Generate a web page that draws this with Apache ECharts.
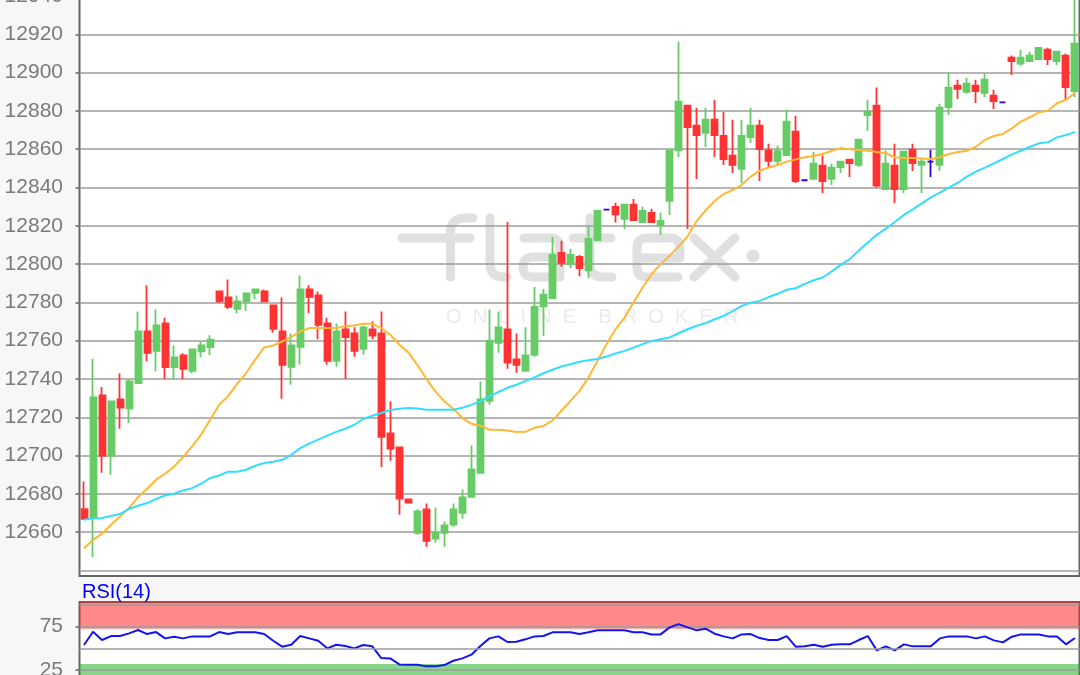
<!DOCTYPE html>
<html><head><meta charset="utf-8">
<style>html,body{margin:0;padding:0;background:#f7f7f7;overflow:hidden}#c{width:1080px;height:675px}</style>
<script src="https://cdn.jsdelivr.net/npm/echarts@6/dist/echarts.min.js"></script>
</head><body><div id="c"></div>
<script>
// [open, close, low, high]
const candles = [
[12672,12667,12667,12686.5],[12667.4,12730.4,12647,12750.4],[12731.4,12700,12691,12735.8],[12700,12728.3,12690,12728.3],
[12729.3,12725,12714,12743],[12724.5,12738.7,12717,12740],[12737.9,12764.8,12737.9,12775.3],[12764.8,12753.7,12749.3,12788.9],
[12754.7,12768,12744,12776.3],[12769,12746.2,12740,12772],[12746.2,12751.3,12740,12757.5],[12752.3,12745.3,12740,12753.4],
[12744.3,12755.4,12743,12755.4],[12754.4,12757.5,12751.4,12759.6],[12756.7,12760.5,12752.5,12762.8],[12785.7,12780.5,12779.8,12785.7],
[12782.6,12777.7,12776.5,12792],[12776.7,12780.5,12774.4,12783.6],[12780.5,12784.7,12775.5,12784.7],[12785,12786.8,12781.7,12786.8],
[12785.7,12780.5,12780.5,12786.8],[12778.4,12766.2,12764.1,12778.4],[12764.8,12747.4,12729.7,12782.6],[12746.4,12757.5,12737,12763.8],
[12756.8,12786.8,12747.4,12794],[12786.8,12782.9,12774.4,12788.9],[12783.6,12768.3,12760.8,12785.7],[12769,12749.5,12747.4,12772],
[12749.5,12764.8,12746.4,12769],[12765.9,12761.9,12740,12775.3],[12763.8,12754.7,12751.6,12767],[12755.8,12766.9,12752.7,12768],
[12765.9,12762.7,12760.7,12770],[12763.8,12709.8,12694,12775.3],[12711.6,12703.6,12697.3,12728.3],[12704.3,12677.5,12669.1,12704.3],
[12677.1,12675.4,12675.4,12677.1],[12659.7,12670.8,12658.6,12671.9],[12671.9,12655.5,12652.4,12675],[12656.6,12659.7,12654.5,12672.9],
[12659.7,12663.5,12652.4,12665.6],[12663.9,12671.9,12662.8,12675],[12670.1,12678.2,12667,12682.3],[12678.5,12692.8,12678.5,12705.3],
[12691,12729.3,12691,12738.7],[12728.6,12760,12726.5,12776.3],[12758.9,12766.9,12753.7,12775.3],[12765.9,12748.5,12745.3,12822],
[12750.2,12747.4,12743.3,12763.8],[12744.3,12752.3,12744.3,12767],[12752.6,12777.7,12751.6,12788.1],[12778,12784,12762.4,12787],
[12782.2,12804.8,12782,12814.2],[12805.9,12800.7,12798.6,12812.2],[12800,12804.8,12797.9,12808],[12803.8,12797.9,12793.7,12804.8],
[12796.8,12813.2,12792.7,12819.5],[12812.5,12827.8,12812.5,12827.8],[12828.5,12828.5,12828.5,12828.5],[12829.9,12826,12821.7,12832],
[12823.6,12831,12818.4,12831],[12831,12823,12823,12834],[12821.9,12827.8,12821.9,12830],[12826.8,12821.9,12821.5,12828.9],
[12820.5,12822.6,12815.3,12826.8],[12833,12859.4,12825.7,12859.4],[12859.4,12884.8,12856,12916.2],[12882.8,12871.6,12818.3,12882.8],
[12872.3,12867.4,12844.5,12881.7],[12868.5,12875.4,12861.2,12881.7],[12875.4,12867.4,12856,12885.9],[12867,12854.9,12851.8,12879.6],
[12856.6,12851.8,12847.6,12875.4],[12849.7,12867,12842.4,12875.4],[12866.4,12872.3,12863.3,12881.7],[12872.3,12860.1,12843.4,12875.4],
[12859.4,12853.9,12850.7,12862.9],[12853.9,12859,12851.8,12861.9],[12857,12874.4,12857,12880.7],[12869.2,12843.4,12842.4,12877.5],
[12843.8,12843.8,12843.8,12843.8],[12844.5,12852.5,12844.5,12858.7],[12851.4,12843.4,12837,12856.6],[12844.5,12850.4,12841.3,12852.5],
[12850.7,12853.5,12847.6,12853.5],[12854.6,12852.8,12845.5,12854.6],[12851.8,12865,12850.7,12865],[12877.9,12879.6,12869.5,12885.9],
[12882.8,12841,12840,12892.2],[12839.2,12852.5,12839.2,12859.4],[12851.4,12839.2,12831.9,12862.9],[12839.2,12858.7,12837.1,12858.7],
[12859.8,12852.8,12848.6,12862.9],[12851.8,12853.5,12837.1,12855.6],[12853.5,12853.5,12845.5,12859.8],[12851.8,12881.7,12848.6,12883.8],
[12882,12892.2,12877.9,12900],[12893.2,12891.5,12886.2,12896.3],[12890,12894.2,12889,12897.4],[12893.2,12890.4,12884.1,12896.3],
[12889.4,12896.3,12887.3,12899.5],[12888,12885.2,12881,12891.1],[12884.5,12884.5,12884.5,12884.5],[12907.8,12906,12898.8,12908.9],
[12904.7,12907.8,12903.6,12912],[12906,12908.9,12906,12911],[12907.1,12913,12907.1,12913],[12912,12907.1,12904,12913],
[12906,12911,12904,12911],[12908.9,12892.5,12886.2,12910],[12890.4,12915.1,12887.3,12946]
];
const maFast = [12651.5,12656,12659.2,12663.9,12668.2,12672.6,12678.3,12682.7,12687.4,12690.5,12694.3,12699.2,12704.8,12710.9,12718.7,12726.5,12731.2,12737.5,12743.1,12750,12756.5,
12757.5,12759.6,12761.9,12764.8,12766.6,12766.6,12766.6,12766.6,12767.6,12768,12768.8,12768.8,12766.6,12763.1,12757.9,12753.9,12747.4,12740.1,12733.5,12728.3,12724.5,12719.6,12716.6,12715.6,12713.5,12713.5,12713.1,12712.3,12712.4,
12714.5,12715.5,12718.2,12723.4,12728.6,12733.8,12740.8,12749.5,12758.2,12766,12772.1,12780,12787.8,12794.7,12800,12804.3,12809.2,12814.5,12822.5,12828,12833,12836.6,12838.7,12841.3,12845.7,12848.8,12850.5,12851.8,12853.5,12854.7,12855.8,12856.5,12857.5,12859.2,12860.6,12860,12859.6,12859.2,12858.6,
12857.9,12855.8,12855.4,12855.4,12855.2,12854.9,12855.8,12857.5,12858.6,12859.2,12861.3,12864.8,12866.9,12868,12870.9,12874.4,12876.7,12879.3,12880.1,12884,12885.7,12889.5];
const maSlow = [12666.5,12667.2,12667.4,12668.4,12669.5,12672.1,12673.8,12675.2,12677.3,12679.2,12680.1,12681.8,12683,12685.3,12688.3,12689.6,12691.6,12691.6,12692.6,12694.7,12696.1,
12696.8,12697.8,12700.4,12703.9,12706.2,12708.3,12710.4,12712.4,12714,12716.1,12719.1,12720.8,12722.2,12723.8,12724.5,12724.8,12724.6,12723.9,12723.9,12723.9,12723.9,12725,12726.5,12728.3,12730.9,12733.2,12735.4,12737,12738.9,
12740.8,12743,12744.8,12746.5,12747.7,12749,12749.8,12750.5,12751.7,12753.3,12754.7,12756.4,12758.2,12759.9,12760.8,12761.7,12763.9,12766,12767.8,12769.2,12771.2,12773,12775.5,12778.2,12779.8,12780.8,12782.8,12784.5,12786.6,12787.4,12789.7,12791.6,12793,12796.2,12799.6,12802.6,12807.1,12811.3,12815.3,
12818.5,12822,12825.7,12828.6,12831.7,12834.9,12837.3,12840,12842.5,12845.7,12848.3,12850.4,12852.6,12854.9,12857.3,12859.2,12861.3,12863.1,12863.6,12866.2,12867.4,12869];
const rsi = [53.8,69.2,59.6,64.2,64.2,67.3,71.2,66.5,68.8,61.5,63.5,61.5,63.8,63.8,63.8,68.8,66.5,68.5,68.5,68.5,66.5,58.8,51.9,54.2,64.2,61.5,58.8,50,54.2,52.7,50,
53.8,52.3,38.8,38.4,31.5,31.1,31.1,29.2,29.2,30.7,35.7,38.4,42.7,52.7,61.5,63.8,57.3,57.7,60.4,63.8,64.2,68.5,68.5,68.5,66.5,68.5,70.8,70.8,70.8,70.8,68.5,68.5,66.1,66.1,74.2,78,74.2,70.8,72.7,66.9,
63.8,61.5,66.1,66.5,61.9,59.6,59.6,64.2,51.9,52.3,54.2,51.9,54.2,54.6,54.6,59.6,64.2,47.7,52.3,47.7,54.6,52.3,52.3,52.3,61.5,63.8,63.8,63.8,61.5,63.8,59.2,56.9,63.5,66.1,66.1,66.1,63.8,63.8,54.6,61.9];
const priceTicks = [12660,12680,12700,12720,12740,12760,12780,12800,12820,12840,12860,12880,12900,12920,12940];
const priceExtraLines = [12640];
const rsiLabelTicks = [25,75];
const rsiExtraLines = [50,100];
const rsiBands = [[72.5,104],[-10,32]];
const categories = candles.map((_, i) => i);

const GRIDC = '#9c9c9c', AXC = '#666666', LAB = '#7a7a7a';
const FONT = '"Liberation Sans", Arial, sans-serif';
const WM = '#e0e0e0';
const wmPaths = [
  'M402 238 L470 238 M450.5 277 L450.5 232 Q450.5 218 466 218 L473 218',
  'M490 218 L490 264 Q490 277 503 277 L507 277',
  'M524 238 L550 238 Q560 238 560 248 L560 277 L533 277 Q523 277 523 267 Q523 257 533 257 L560 257',
  'M573 238 L611 238 M590 218 L590 264 Q590 277 603 277 L612 277',
  'M680 258 L637 258 M678 277 L647 277 Q637 277 637 267 L637 248 Q637 238 647 238 L670 238 Q680 238 680 248 L680 258',
  'M694 238 L735 277 M735 238 L694 277'
];
wmPaths.forEach((d, i) => echarts.graphic.registerShape('wm' + i, echarts.graphic.extendPath(d)));
const wmEls = wmPaths.map((d, i) => ({type:'wm' + i, z:1, silent:true,
  style:{fill:'none', stroke:WM, lineWidth:9, lineCap:'round', lineJoin:'round'}}));
const extraLine = arr => ({silent:true, symbol:'none', label:{show:false}, lineStyle:{color:GRIDC,width:1.6,type:'solid'}, data:arr.map(v=>({yAxis:v}))});

const chart = echarts.init(document.getElementById('c'), null, {renderer:'canvas'});
chart.setOption({
  animation:false,
  backgroundColor:'#f7f7f7',
  grid:[
    {left:79.5, width:1000, top:-20, height:596, outerBoundsMode:'none', show:true, backgroundColor:'#fff', borderColor:AXC, borderWidth:2, z:0},
    {left:79.5, width:1000, top:602, height:97.9, outerBoundsMode:'none', show:true, backgroundColor:'#fff', borderColor:AXC, borderWidth:2, z:0}
  ],
  xAxis:[
    {type:'category', gridIndex:0, data:categories, boundaryGap:true, axisLine:{show:false}, axisTick:{show:false}, axisLabel:{show:false}, splitLine:{show:false}, z:2},
    {type:'category', gridIndex:1, data:categories, boundaryGap:true, axisLine:{show:false}, axisTick:{show:false}, axisLabel:{show:false}, splitLine:{show:false}, z:2}
  ],
  yAxis:[
    {type:'value', gridIndex:0, min:12637.1, max:12948.4, position:'left', z:2, scale:true,
     axisLine:{show:false},
     axisTick:{show:true, length:4, lineStyle:{color:AXC,width:1.5}, customValues:priceTicks},
     axisLabel:{show:true, color:LAB, fontFamily:FONT, fontSize:21, margin:16.5, padding:[3,0,0,0], customValues:priceTicks, formatter:v=>String(v)},
     splitLine:{show:true, lineStyle:{color:GRIDC,width:1.6}}},
    {type:'value', gridIndex:1, min:-9.5, max:103.5, position:'left', z:2,
     axisLine:{show:false},
     axisTick:{show:true, length:4, lineStyle:{color:AXC,width:1.5}, customValues:rsiLabelTicks},
     axisLabel:{show:true, color:LAB, fontFamily:FONT, fontSize:21, margin:16.5, padding:[3,0,0,0], customValues:rsiLabelTicks, formatter:v=>String(v)},
     splitLine:{show:true, lineStyle:{color:GRIDC,width:1.6}}}
  ],
  graphic:[
    ...wmEls,
    {type:'circle', z:1, silent:true, shape:{cx:753,cy:256,r:6.5}, style:{fill:WM}},
    {type:'text', z:1, silent:true, x:446, y:307, style:{text:'O  N  L  I  N  E    B  R  O  K  E  R', fill:'#ebebeb', font:'20px "Liberation Sans", Arial, sans-serif'}},
    {type:'text', z:5, silent:true, x:82, y:582, style:{text:'RSI(14)', fill:'#0000ff', font:'20px "Liberation Sans", Arial, sans-serif'}}
  ],
  series:[
    {type:'candlestick', xAxisIndex:0, yAxisIndex:0, data:candles, barWidth:6.5, clip:true,
     markLine:extraLine(priceExtraLines),
     itemStyle:{color:'#66cc66', color0:'#ff3333', borderColor:'#66cc66', borderColor0:'#ff3333', borderColorDoji:'#3300cc', borderWidth:1.8}},
    {type:'line', xAxisIndex:0, yAxisIndex:0, data:maFast, showSymbol:false, symbol:'none', lineStyle:{color:'#ffb833',width:2}},
    {type:'line', xAxisIndex:0, yAxisIndex:0, data:maSlow, showSymbol:false, symbol:'none', lineStyle:{color:'#33ddff',width:2}},
    {type:'line', xAxisIndex:1, yAxisIndex:1, data:rsi, showSymbol:false, symbol:'none', lineStyle:{color:'#1414f0',width:2},
     markLine:extraLine(rsiExtraLines),
     markArea:{silent:true, itemStyle:{color:'rgba(255,17,17,0.5)'}, data:[
       [{yAxis:rsiBands[0][0]},{yAxis:rsiBands[0][1]}],
       [{yAxis:rsiBands[1][0],itemStyle:{color:'rgba(17,170,17,0.5)'}},{yAxis:rsiBands[1][1]}]
     ]}}
  ]
});
</script></body></html>
